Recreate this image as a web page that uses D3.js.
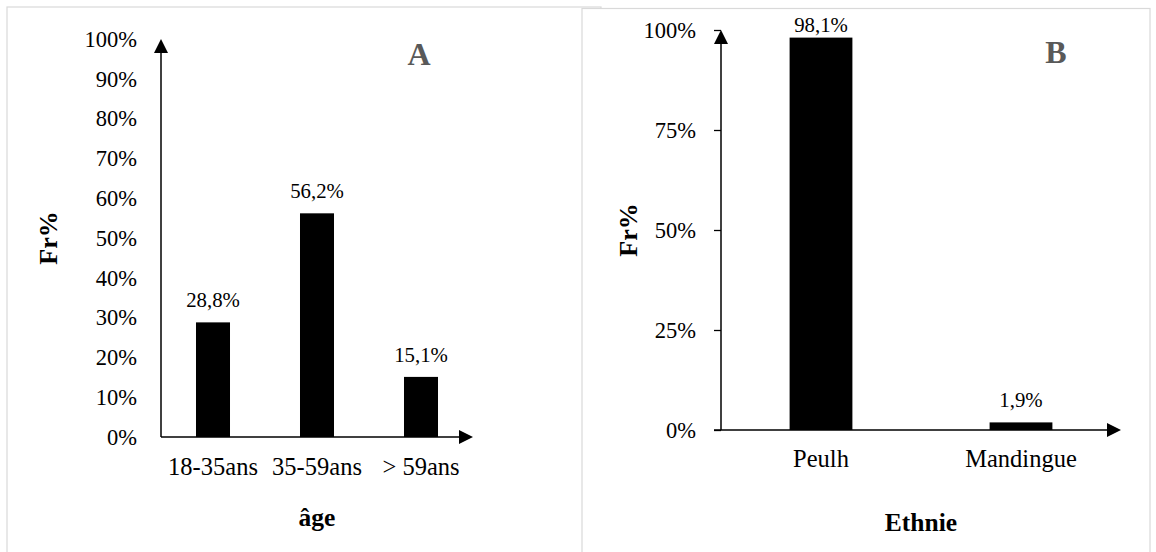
<!DOCTYPE html>
<html>
<head>
<meta charset="utf-8">
<script src="https://cdn.jsdelivr.net/npm/d3@7"></script>
<style>
  html, body { margin: 0; padding: 0; background: #fff; }
  svg { display: block; }
  text { font-family: "Liberation Serif", "Times New Roman", Times, "DejaVu Serif", serif; fill: #000; }
</style>
</head>
<body>
<svg id="chart" width="1156" height="552"></svg>
<script>
// ---- data ----
const catsA = ["18-35ans", "35-59ans", "> 59ans"];
const valsA = [28.8, 56.2, 15.1];
const ticksA = [0, 10, 20, 30, 40, 50, 60, 70, 80, 90, 100];

const catsB = ["Peulh", "Mandingue"];
const valsB = [98.1, 1.9];
const ticksB = [0, 25, 50, 75, 100];

const FONT = '"Liberation Serif", "Times New Roman", Times, "DejaVu Serif", serif';
const svg = d3.select("#chart");
const pct = d => d + "%";
const valFmt = d => d3.format(".1f")(d).replace(".", ",") + "%";

// panel frames
svg.append("rect").attr("x", 7).attr("y", 7).attr("width", 594).attr("height", 560)
  .attr("fill", "#fff").attr("stroke", "#d9d9d9").attr("stroke-width", 1.2);
svg.append("rect").attr("x", 582).attr("y", 8.5).attr("width", 568).attr("height", 560)
  .attr("fill", "#fff").attr("stroke", "#d9d9d9").attr("stroke-width", 1.2);

function panel(cfg) {
  const g = svg.append("g");
  const y = d3.scaleLinear().domain([0, 100]).range([cfg.y0, cfg.y1]);
  const x = d3.scaleBand().domain(cfg.cats).range([cfg.x0, cfg.x1])
    .paddingInner(cfg.pad).paddingOuter(cfg.pad / 2);

  // y axis ticks/labels
  const ya = g.append("g").attr("transform", `translate(${cfg.x0},0)`)
    .call(d3.axisLeft(y).tickValues(cfg.ticks).tickFormat(pct)
      .tickSize(cfg.tickSize).tickPadding(cfg.tickPad));
  ya.attr("font-family", null);
  ya.select(".domain").remove();
  ya.selectAll("line").attr("stroke", "#000").attr("stroke-width", 1.3);
  ya.selectAll("text").style("font-size", "22.5px").style("font-family", FONT);

  // x axis labels
  const xa = g.append("g").attr("transform", `translate(0,${cfg.y0})`)
    .call(d3.axisBottom(x).tickSize(0).tickPadding(cfg.catPad));
  xa.attr("font-family", null);
  xa.select(".domain").remove();
  xa.selectAll("text").style("font-size", "24.5px").style("font-family", FONT);

  // bars
  g.selectAll("rect.bar").data(cfg.vals).enter().append("rect")
    .attr("class", "bar")
    .attr("x", (d, i) => x(cfg.cats[i]))
    .attr("width", x.bandwidth())
    .attr("y", d => y(d))
    .attr("height", d => y(0) - y(d))
    .attr("fill", "#000");

  // value labels
  g.selectAll("text.val").data(cfg.vals).enter().append("text")
    .attr("class", "val")
    .attr("x", (d, i) => x(cfg.cats[i]) + x.bandwidth() / 2)
    .attr("y", d => Math.max(y(d) - 15, cfg.y1 + 2))
    .attr("text-anchor", "middle")
    .style("font-size", "20.8px").style("font-family", FONT)
    .text(valFmt);

  // axes lines with arrows
  const yTop = y(100), yBase = y(0);
  g.append("line").attr("x1", cfg.x0).attr("x2", cfg.x0).attr("y1", yBase).attr("y2", yTop + 10)
    .attr("stroke", "#000").attr("stroke-width", 1.5);
  g.append("path")
    .attr("d", `M${cfg.x0},${yTop} L${cfg.x0 - 7},${yTop + 14} L${cfg.x0 + 7},${yTop + 14} Z`)
    .attr("fill", "#000");
  const xEnd = cfg.x1;
  g.append("line").attr("x1", cfg.x0 - cfg.tickSize).attr("x2", xEnd - 10).attr("y1", yBase).attr("y2", yBase)
    .attr("stroke", "#000").attr("stroke-width", 1.5);
  g.append("path")
    .attr("d", `M${xEnd},${yBase} L${xEnd - 14},${yBase - 7} L${xEnd - 14},${yBase + 7} Z`)
    .attr("fill", "#000");

  // axis titles
  g.append("text")
    .attr("transform", `translate(${cfg.ytX},${(yTop + yBase) / 2}) rotate(-90)`)
    .attr("text-anchor", "middle").attr("dy", "0.35em")
    .style("font-size", "26px").style("font-weight", "bold").style("font-family", FONT)
    .text("Fr%");
  g.append("text")
    .attr("x", (cfg.x0 + cfg.x1) / 2).attr("y", cfg.xtY)
    .attr("text-anchor", "middle")
    .style("font-size", "25.5px").style("font-weight", "bold").style("font-family", FONT)
    .text(cfg.xTitle);

  // panel letter
  g.append("text")
    .attr("x", cfg.letterX).attr("y", cfg.letterY)
    .attr("text-anchor", "middle")
    .style("font-size", "32px").style("font-weight", "bold").style("fill", "#595959")
    .style("font-family", FONT)
    .text(cfg.letter);
}

panel({
  cats: catsA, vals: valsA, ticks: ticksA,
  x0: 161, x1: 473, y0: 437, y1: 39, pad: 0.673,
  tickSize: 0, tickPad: 24, catPad: 21,
  ytX: 48, xTitle: "âge", xtY: 526,
  letter: "A", letterX: 419, letterY: 64.5
});

panel({
  cats: catsB, vals: valsB, ticks: ticksB,
  x0: 721, x1: 1121, y0: 430, y1: 30, pad: 0.686,
  tickSize: 7, tickPad: 18, catPad: 20,
  ytX: 628, xTitle: "Ethnie", xtY: 531,
  letter: "B", letterX: 1056, letterY: 63
});
</script>
</body>
</html>
